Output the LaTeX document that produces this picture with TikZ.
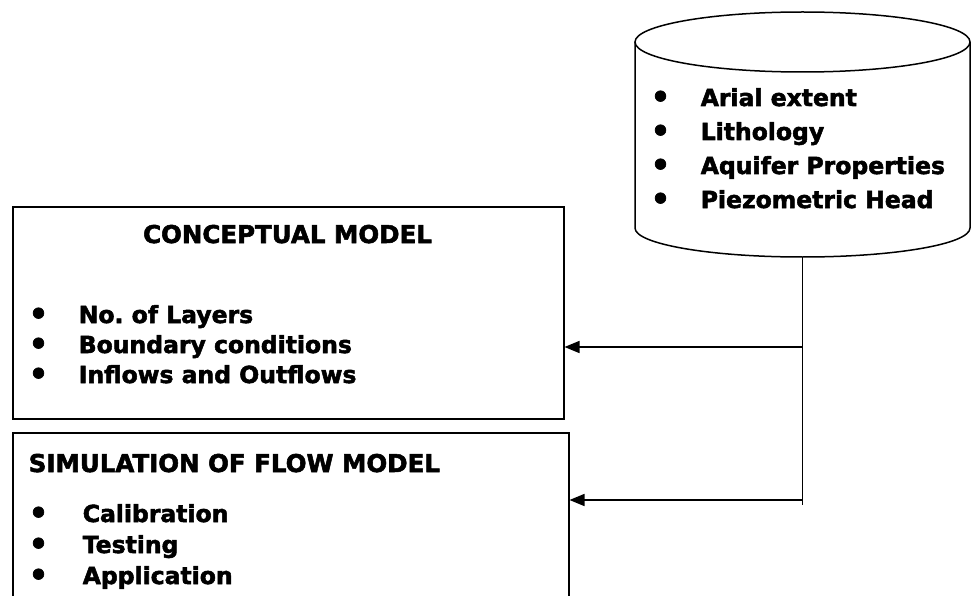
\documentclass[tikz,border=0pt]{standalone}
\usepackage{fontspec}
\setmainfont{DejaVu Sans}[BoldFeatures={FakeBold=2.2}]
\usetikzlibrary{arrows.meta,positioning}
\frenchspacing
\newcommand{\blt}{\raisebox{-1.5pt}{\scalebox{1.3}{•}}}

\begin{document}
\begin{tikzpicture}[x=1pt, y=-1pt, >={Triangle[length=15pt,width=12pt]}, line width=1.5pt,
  box/.style={draw, rectangle, inner sep=0pt, anchor=north west},
  item/.style={inner sep=0pt, anchor=base west, font=\bfseries\fontsize{23.5}{28}\selectfont},
  heading/.style={item, font=\bfseries\fontsize{24.5}{28}\selectfont}]
\clip (0,0) rectangle (971,596);
% data store
\draw (802.5,42) ellipse [x radius=167.5pt, y radius=30pt];
\draw (635,42) -- (635,228) arc [start angle=180, end angle=360, x radius=167.5pt, y radius=29pt] -- (970,42);
\coordinate (tank) at (802.5,257);
\foreach \txt [count=\i] in {Arial extent, Lithology, Aquifer Properties, Piezometric Head}
  \node[item] (tank-\i) at (650, 72+34*\i) {\makebox[50pt][l]{\blt}\txt};

% conceptual model
\node[box, minimum width=551pt, minimum height=212pt] (concept) at (12,206) {};
\node[heading, anchor=base] (concept-title) at (287.5,243) {CONCEPTUAL MODEL};
\foreach \txt [count=\i] in {No. of Layers, Boundary conditions, Inflows and Outflows}
  \node[item] (concept-\i) at (28, 293+30*\i) {\makebox[50pt][l]{\blt}\txt};

% flow model
\node[box, minimum width=556pt, minimum height=200pt] (simulation) at (12,432) {};
\node[heading] (simulation-title) at (28,472) {SIMULATION OF FLOW MODEL};
\foreach \txt [count=\i] in {Calibration, Testing, Application}
  \node[item] (simulation-\i) at (28, 491+31*\i) {\makebox[54pt][l]{\blt}\txt};

% links
\coordinate (split-1) at (802.5,347);
\coordinate (split-2) at (802.5,500);
\coordinate (trunk) at (802.5,505);
\draw (tank) -- (trunk);
\draw[->] (split-1) -- (concept.east |- split-1);
\draw[->] (split-2) -- (simulation.east |- split-2);
\end{tikzpicture}
\end{document}
